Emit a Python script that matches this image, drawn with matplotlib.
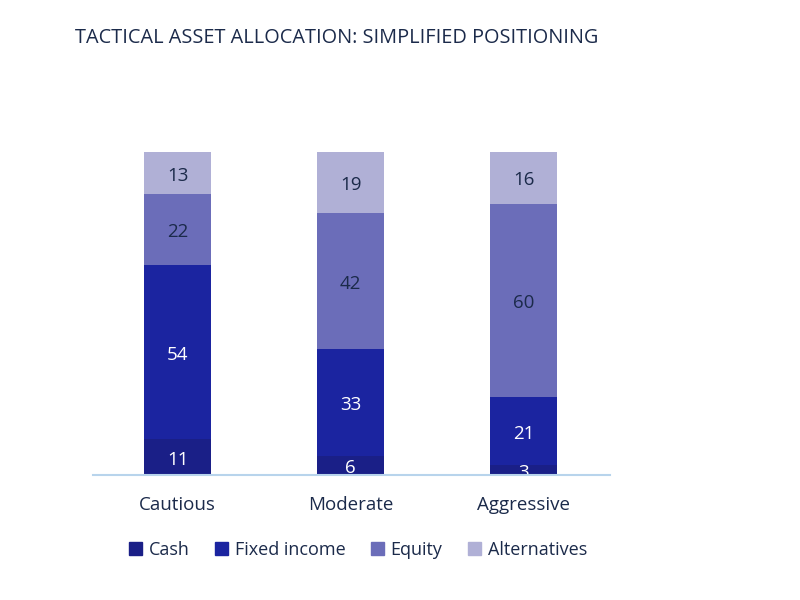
import numpy as np
import matplotlib
matplotlib.use("Agg")
import matplotlib.pyplot as plt
from matplotlib.patches import Patch

plt.rcParams['font.family'] = ['Open Sans', 'DejaVu Sans']

profiles = ["Cautious", "Moderate", "Aggressive"]
series = ["Cash", "Fixed income", "Equity", "Alternatives"]
cash = [11, 6, 3]
fixed_income = [54, 33, 21]
equity = [22, 42, 60]
alternatives = [13, 19, 16]

colors = ["#1a1f87", "#1b24a0", "#6b6db9", "#b0b0d6"]
label_colors = ["white", "white", "#1b2a4a", "#1b2a4a"]
text_color = "#1b2a4a"

fig = plt.figure(figsize=(8, 6), dpi=100)
ax = fig.add_axes([93 / 800, 125 / 600, 517 / 800, 323 / 600])

x = np.arange(len(profiles))
bottom = np.zeros(len(profiles))
for vals, col, lc in zip([cash, fixed_income, equity, alternatives], colors, label_colors):
    bars = ax.bar(x, vals, width=0.39, bottom=bottom, color=col, zorder=2)
    for b, v, btm in zip(bars, vals, bottom):
        ax.text(b.get_x() + b.get_width() / 2, btm + v / 2 - 0.8, str(v),
                ha='center', va='center', color=lc, fontsize=13.5, zorder=3,
                clip_on=False)
    bottom += np.array(vals)

ax.set_xlim(-0.49, 2.5)
ax.set_ylim(0, 100)
for s in ["top", "right", "left"]:
    ax.spines[s].set_visible(False)
ax.spines["bottom"].set_color("#b8d4ec")
ax.spines["bottom"].set_linewidth(1.5)
ax.spines["bottom"].set_zorder(4)
ax.set_yticks([])
ax.set_xticks(x)
ax.set_xticklabels(profiles, fontsize=13.5, color=text_color)
ax.tick_params(axis='x', length=0, pad=15)

fig.text(75 / 800, 1 - 38 / 600, "TACTICAL ASSET ALLOCATION: SIMPLIFIED POSITIONING",
         fontsize=14.3, color=text_color, va='center', ha='left')

handles = [Patch(color=c, label=s) for c, s in zip(colors, series)]
fig.legend(handles=handles, loc='center', bbox_to_anchor=(358 / 800, 1 - 550 / 600),
           ncol=4, frameon=False, fontsize=13, handlelength=0.7, handleheight=0.7,
           handletextpad=0.4, columnspacing=1.4, labelcolor=text_color)

fig.savefig("out.png", dpi=100)
